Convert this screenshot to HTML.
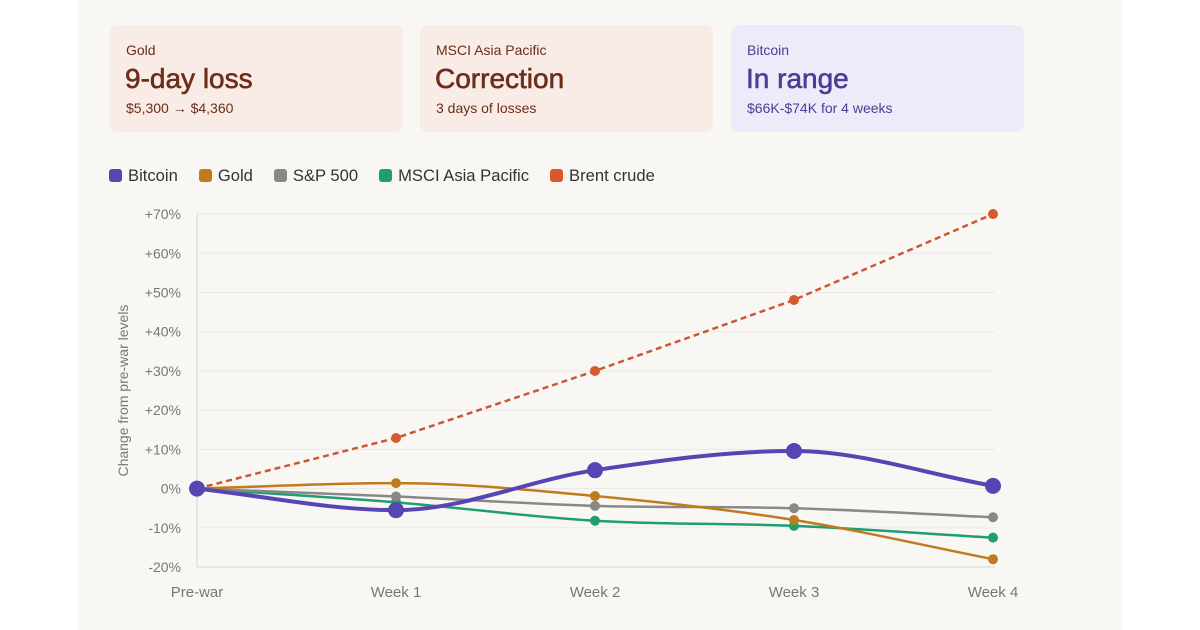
<!DOCTYPE html>
<html><head><meta charset="utf-8"><style>
body{margin:0;width:1200px;height:630px;background:#fff;font-family:"Liberation Sans",sans-serif;overflow:hidden;position:relative}
#panel{position:absolute;left:78px;top:0;width:1044px;height:630px;background:#f9f7f4}
.card{position:absolute;top:25px;height:107px;width:293px;border-radius:8px;background:#f9ebe5;color:#6b2e1a}
.card .t{position:absolute;left:16px;top:17px;font-size:14px}
.card .b{position:absolute;left:15px;top:38px;font-size:28px;font-weight:400;-webkit-text-stroke:0.6px currentColor}
.card .s{position:absolute;left:16px;top:75px;font-size:14px}
.legend{position:absolute;top:166px;left:109px;font-size:16.6px;color:#333;display:flex;gap:21px}
.legend span.sw{display:inline-block;width:13px;height:13px;border-radius:3px;margin-right:6px;vertical-align:-1px}
</style></head><body>
<div id="panel"></div>
<div class="card" style="left:110px"><div class="t">Gold</div><div class="b">9-day loss</div><div class="s">$5,300 → $4,360</div></div>
<div class="card" style="left:420px"><div class="t">MSCI Asia Pacific</div><div class="b">Correction</div><div class="s">3 days of losses</div></div>
<div class="card" style="left:731px;background:#ecebfa;color:#4a3e94"><div class="t">Bitcoin</div><div class="b">In range</div><div class="s">$66K-$74K for 4 weeks</div></div>
<div class="legend">
<div><span class="sw" style="background:#5646b3"></span>Bitcoin</div>
<div><span class="sw" style="background:#c07b1e"></span>Gold</div>
<div><span class="sw" style="background:#8a8886"></span>S&amp;P 500</div>
<div><span class="sw" style="background:#1f9e74"></span>MSCI Asia Pacific</div>
<div><span class="sw" style="background:#d65a30"></span>Brent crude</div>
</div>
<svg id="chart" width="1200" height="630" style="position:absolute;left:0;top:0"></svg>
<script>
const categories=["Pre-war","Week 1","Week 2","Week 3","Week 4"];
const yTicks=[-20,-10,0,10,20,30,40,50,60,70];
const bitcoin=[0,-5.5,4.7,9.6,0.7];
const gold=[0,1.4,-1.9,-8,-18];
const sp500=[0,-2,-4.4,-5,-7.3];
const msci=[0,-3.5,-8.2,-9.5,-12.5];
const brent=[0,12.9,30,48.1,70];
const NS="http://www.w3.org/2000/svg";
const svg=document.getElementById('chart');
const X=i=>197+i*199;
const Y=v=>488.6-v*3.922;
function mk(t,a){const e=document.createElementNS(NS,t);for(const k in a)e.setAttribute(k,a[k]);svg.appendChild(e);return e;}
yTicks.forEach(v=>{
 const l=mk('line',{x1:197,x2:995,y1:Y(v),y2:Y(v),stroke:'#ebe8e3','stroke-width':1});
 
 
 const t=mk('text',{x:181,y:Y(v)+5,'text-anchor':'end','font-size':14,fill:'#777'});
 t.textContent=(v>0?'+':'')+v+'%';
 
 
});
const ax=mk('path',{d:`M197 ${Y(70)} V${Y(-20)} H995`,stroke:'#d8d5d0',fill:'none'});


categories.forEach((c,i)=>{
 const t=mk('text',{x:X(i),y:597,'text-anchor':'middle','font-size':15,fill:'#777'});
 t.textContent=c;
 
 
});
const yt=mk('text',{x:0,y:0,'text-anchor':'middle','font-size':14,fill:'#777',transform:`translate(128 ${Y(25)}) rotate(-90)`});
yt.textContent='Change from pre-war levels';


function smooth(vals){
 const p=vals.map((v,i)=>[X(i),Y(v)]);const n=p.length;
 const d=[],m=[];
 for(let i=0;i<n-1;i++)d.push((p[i+1][1]-p[i][1])/(p[i+1][0]-p[i][0]));
 for(let i=0;i<n;i++){if(i==0)m.push(d[0]);else if(i==n-1)m.push(d[n-2]);else m.push(d[i-1]*d[i]<=0?0:(d[i-1]+d[i])/2);}
 let s=`M${p[0][0]} ${p[0][1]}`;
 for(let i=0;i<n-1;i++){const h=(p[i+1][0]-p[i][0])/3;s+=` C${p[i][0]+h} ${p[i][1]+m[i]*h} ${p[i+1][0]-h} ${p[i+1][1]-m[i+1]*h} ${p[i+1][0]} ${p[i+1][1]}`;}
 return s;
}
function series(name,vals,color,w,r,dash,lineColor){
 const d=dash?vals.map((v,i)=>(i?'L':'M')+X(i)+' '+Y(v)).join(' '):smooth(vals);
 const p=mk('path',{d,stroke:lineColor||color,'stroke-width':w,fill:'none'});
 if(dash)p.setAttribute('stroke-dasharray','6 4');
 
 
 vals.forEach((v,i)=>{
  const c=mk('circle',{cx:X(i),cy:Y(v),r,fill:color});
  
  
 });
}
series('brent',brent,'#d65a30',2.5,5,true,'#c75a35');
series('msci',msci,'#1f9e74',2.5,5);
series('sp500',sp500,'#8a8886',2.5,5);
series('gold',gold,'#c07b1e',2.5,5);
series('bitcoin',bitcoin,'#5646b3',4,8);
</script>
</body></html>
